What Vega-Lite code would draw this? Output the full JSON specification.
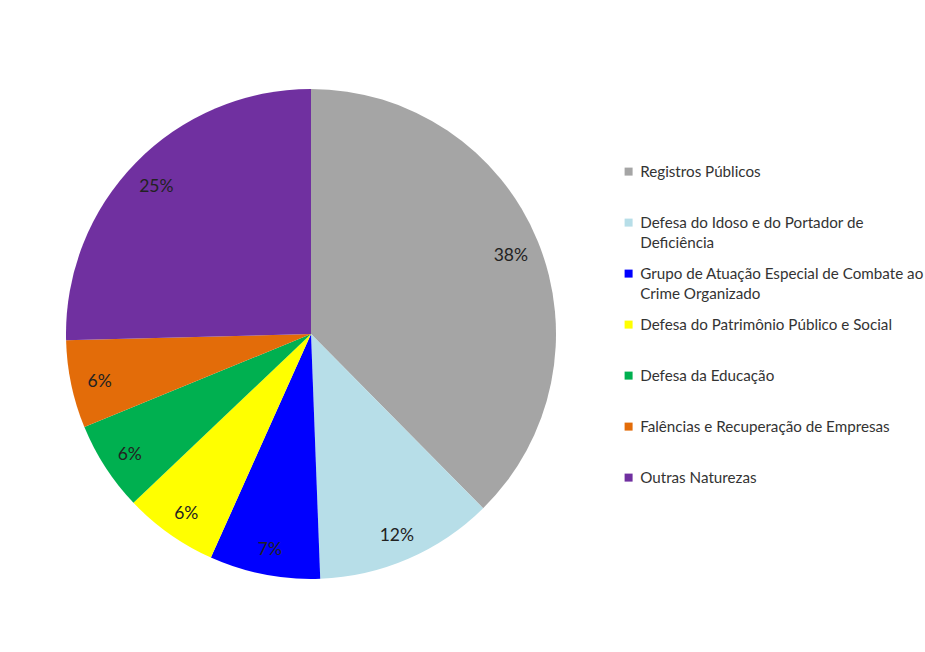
{
  "$schema": "https://vega.github.io/schema/vega-lite/v6.json",
  "autosize": {"type": "none"},
  "padding": {"left": 0, "top": 16, "right": 303, "bottom": 0},
  "width": 622,
  "height": 636,
  "background": "white",
  "config": {
    "view": {"stroke": null},
    "font": "Lato",
    "style": {"guide-label": {"lineHeight": 20}}
  },
  "data": {
    "values": [
      {"ordem": 1, "natureza": "Registros Públicos", "valor": 0.376},
      {"ordem": 2, "natureza": "Defesa do Idoso e do Portador de Deficiência", "valor": 0.118},
      {"ordem": 3, "natureza": "Grupo de Atuação Especial de Combate ao Crime Organizado", "valor": 0.073},
      {"ordem": 4, "natureza": "Defesa do Patrimônio Público e Social", "valor": 0.062},
      {"ordem": 5, "natureza": "Defesa da Educação", "valor": 0.059},
      {"ordem": 6, "natureza": "Falências e Recuperação de Empresas", "valor": 0.058},
      {"ordem": 7, "natureza": "Outras Naturezas", "valor": 0.254}
    ]
  },
  "encoding": {
    "theta": {"field": "valor", "type": "quantitative", "stack": true},
    "order": {"field": "ordem", "type": "quantitative", "sort": "ascending"},
    "color": {
      "field": "natureza",
      "type": "nominal",
      "scale": {
        "domain": ["Registros Públicos", "Defesa do Idoso e do Portador de Deficiência", "Grupo de Atuação Especial de Combate ao Crime Organizado", "Defesa do Patrimônio Público e Social", "Defesa da Educação", "Falências e Recuperação de Empresas", "Outras Naturezas"],
        "range": ["#A5A5A5", "#B7DEE8", "#0000FF", "#FFFF00", "#00B050", "#E36C09", "#7030A0"]
      },
      "legend": {
        "title": null,
        "orient": "none",
        "legendX": 621,
        "legendY": 148,
        "padding": 0,
        "symbolType": "square",
        "symbolSize": 64,
        "symbolStrokeWidth": 0,
        "labelFont": "Lato",
        "labelFontSize": 15.2,
        "labelColor": "#333333",
        "labelLimit": 0,
        "labelOffset": 4,
        "labelBaseline": "middle",
        "gridAlign": "all",
        "rowPadding": 15,
        "labelExpr": "datum.label == 'Defesa do Idoso e do Portador de Deficiência' ? ['Defesa do Idoso e do Portador de', 'Deficiência'] : datum.label == 'Grupo de Atuação Especial de Combate ao Crime Organizado' ? ['Grupo de Atuação Especial de Combate ao', 'Crime Organizado'] : datum.label"
      }
    }
  },
  "layer": [
    {"mark": {"type": "arc", "outerRadius": 245}},
    {
      "mark": {"type": "text", "radius": 216, "dy": 4, "font": "Lato", "fontSize": 17.5, "color": "#222222"},
      "encoding": {
        "text": {"field": "valor", "type": "quantitative", "format": ".0%"},
        "color": {"value": "#222222"}
      }
    }
  ]
}
